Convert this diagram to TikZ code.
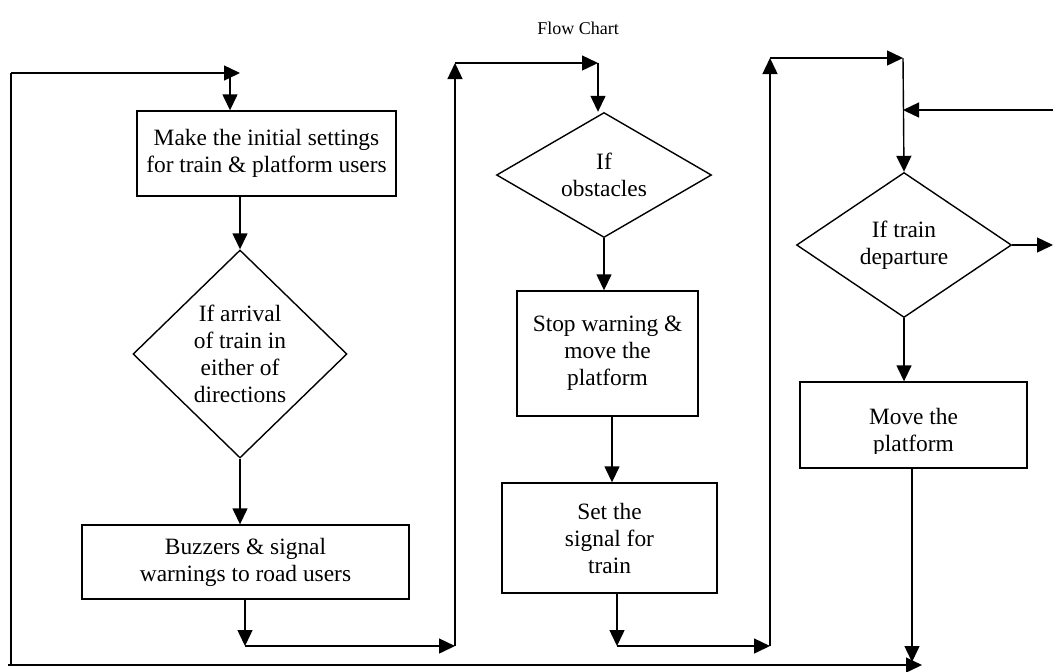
\documentclass[tikz,border=0pt]{standalone}
\usepackage{fontspec}
\setmainfont{Liberation Serif}
\usetikzlibrary{shapes.geometric,arrows.meta}
\begin{document}
\begin{tikzpicture}[x=0.5pt,y=-0.5pt,
  line width=0.7pt,
  arr/.style={-{Triangle[length=8pt,width=7.5pt]}},
  txt/.style={font=\fontsize{11.7}{13.5}\selectfont, align=center},
  box/.style={txt, draw, rectangle, inner sep=0pt},
  dia/.style={txt, draw, diamond, inner sep=0pt}]
\useasboundingbox (0,0) rectangle (1053,671);
\node[font=\fontsize{9}{11}\selectfont] (title) at (578,28) {Flow Chart};
\node[box, minimum width=129.5pt, minimum height=42.5pt] (b1) at (266.5,153.5) {Make the initial settings\\for train \& platform users};
\node[dia, minimum width=107pt, minimum height=104pt] (d1) at (240,354) {If arrival\\of train in\\either of\\directions};
\node[box, minimum width=163.5pt, minimum height=37pt] (b2) at (245.5,562) {Buzzers \& signal\\warnings to road users};
\node[dia, minimum width=107.5pt, minimum height=62.5pt, aspect=1.72] (d2) at (604,175) {If\\obstacles};
\node[box, minimum width=90.5pt, minimum height=62.5pt] (b3) at (607.5,353.5) {Stop warning \&\\move the\\platform};
\node[box, minimum width=107.5pt, minimum height=55pt] (b4) at (609.5,538) {Set the\\signal for\\train};
\node[dia, minimum width=107.5pt, minimum height=72.5pt, aspect=1.48] (d3) at (904,245) {If train\\departure};
\node[box, minimum width=113.5pt, minimum height=43pt] (b5) at (913.5,425) {};
\begin{scope}
  \clip (800,382) rectangle (1027,453);
  \node[txt] (b5t) at (913.5,432) {Move the\\platform};
\end{scope}
% left loop
\coordinate (lb) at (8,665);
\coordinate (lbr) at (922,665);
\coordinate (lc) at (11,665);
\coordinate (lt) at (11,73);
\coordinate (t1) at (240,73);
\coordinate (t1d) at (230,73);
\draw (lc) -- (lt);
\draw[arr] (lt) -- (t1);
\draw[arr] (t1d) -- (t1d |- b1.north);
\draw[arr] (b1.south -| d1.north) -- (d1.north);
\draw[arr] (d1.south) -- (d1.south |- b2.north);
% second column
\coordinate (p1) at (245,646);
\coordinate (p2) at (455,646);
\coordinate (p3) at (455,63);
\coordinate (p4) at (598,63);
\draw[arr] (b2.south -| p1) -- (p1);
\draw[arr] (p1) -- (p2);
\draw[arr] (p2) -- (p3);
\draw[arr] (p3) -- (p4);
\draw[arr] (p4) -- (p4 |- d2.north);
\draw[arr] (d2.south) -- (d2.south |- b3.north);
\coordinate (q0) at (612,0);
\draw[arr] (b3.south -| q0) -- (b4.north -| q0);
% third column
\coordinate (q1) at (617,646);
\coordinate (q2) at (770,646);
\coordinate (q3) at (770,58);
\coordinate (q4) at (903,58);
\draw[arr] (b4.south -| q1) -- (q1);
\draw[arr] (q1) -- (q2);
\draw[arr] (q2) -- (q3);
\draw[arr] (q3) -- (q4);
\draw[arr] (q4) -- (d3.north);
\coordinate (r1) at (1053,110);
\coordinate (r2) at (903,110);
\draw[arr] (r1) -- (r2);
\coordinate (r3) at (1053,245);
\draw[arr] (d3.east) -- (r3);
\draw[arr] (d3.south) -- (d3.south |- b5.north);
\coordinate (s1) at (912,662);
\draw[arr] (b5.south -| s1) -- (s1);
\draw[arr] (lb) -- (lbr);
\end{tikzpicture}
\end{document}
